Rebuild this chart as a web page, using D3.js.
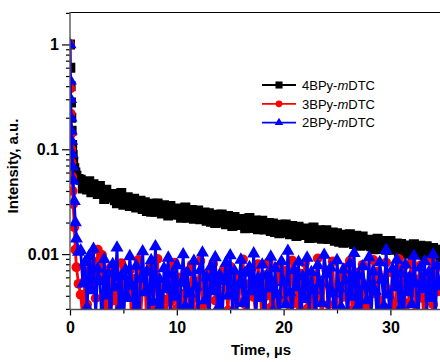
<!DOCTYPE html>
<html>
<head>
<meta charset="utf-8">
<script src="https://cdn.jsdelivr.net/npm/d3@7"></script>
<style>
  html, body { margin: 0; padding: 0; background: #fff; }
  svg { display: block; font-family: Arial, "Liberation Sans", sans-serif; }
</style>
</head>
<body>
<div id="chart"></div>
<script>
// time grid, µs (fine sampling during the prompt decay)
const times = [
  0, 0.03, 0.06, 0.09, 0.12, 0.15, 0.2, 0.25, 0.3, 0.4, 0.5, 0.6, 0.8,
  1.0, 1.2, 1.4, 1.6, 1.8, 2.0, 2.2, 2.4, 2.6, 2.8, 3.0, 3.2, 3.4, 3.6, 3.8,
  4.0, 4.2, 4.4, 4.6, 4.8, 5.0, 5.2, 5.4, 5.6, 5.8, 6.0, 6.2, 6.4, 6.6, 6.8,
  7.0, 7.2, 7.4, 7.6, 7.8, 8.0, 8.2, 8.4, 8.6, 8.8, 9.0, 9.2, 9.4, 9.6, 9.8,
  10.0, 10.2, 10.4, 10.6, 10.8, 11.0, 11.2, 11.4, 11.6, 11.8,
  12.0, 12.2, 12.4, 12.6, 12.8, 13.0, 13.2, 13.4, 13.6, 13.8,
  14.0, 14.2, 14.4, 14.6, 14.8, 15.0, 15.2, 15.4, 15.6, 15.8,
  16.0, 16.2, 16.4, 16.6, 16.8, 17.0, 17.2, 17.4, 17.6, 17.8,
  18.0, 18.2, 18.4, 18.6, 18.8, 19.0, 19.2, 19.4, 19.6, 19.8,
  20.0, 20.2, 20.4, 20.6, 20.8, 21.0, 21.2, 21.4, 21.6, 21.8,
  22.0, 22.2, 22.4, 22.6, 22.8, 23.0, 23.2, 23.4, 23.6, 23.8,
  24.0, 24.2, 24.4, 24.6, 24.8, 25.0, 25.2, 25.4, 25.6, 25.8,
  26.0, 26.2, 26.4, 26.6, 26.8, 27.0, 27.2, 27.4, 27.6, 27.8,
  28.0, 28.2, 28.4, 28.6, 28.8, 29.0, 29.2, 29.4, 29.6, 29.8,
  30.0, 30.2, 30.4, 30.6, 30.8, 31.0, 31.2, 31.4, 31.6, 31.8,
  32.0, 32.2, 32.4, 32.6, 32.8, 33.0, 33.2, 33.4, 33.6, 33.8,
  34.0, 34.2, 34.4, 34.6
];

const int4BPy = [
  1, 0.6, 0.4, 0.28, 0.2, 0.15, 0.11, 0.088, 0.075, 0.066, 0.06, 0.056, 0.052,
  0.0512, 0.0423, 0.0477, 0.0414, 0.0495,
  0.0388, 0.0464, 0.0402, 0.0374, 0.0447,
  0.0390, 0.0336, 0.0412, 0.0370, 0.0344,
  0.0374, 0.0327, 0.0305, 0.0363, 0.0383,
  0.0295, 0.0324, 0.0349, 0.0288, 0.0312,
  0.0337, 0.0278, 0.0302, 0.0322, 0.0269,
  0.0312, 0.0258, 0.0291, 0.0253, 0.0302,
  0.0253, 0.0303, 0.0262, 0.0244, 0.0292,
  0.0271, 0.0234, 0.0287, 0.0258, 0.0239,
  0.0272, 0.0238, 0.0222, 0.0264, 0.0279,
  0.0222, 0.0244, 0.0263, 0.0217, 0.0235,
  0.0261, 0.0215, 0.0234, 0.0249, 0.0208,
  0.0245, 0.0203, 0.0229, 0.0198, 0.0237,
  0.0200, 0.0239, 0.0207, 0.0193, 0.0231,
  0.0214, 0.0185, 0.0226, 0.0203, 0.0189,
  0.0216, 0.0189, 0.0176, 0.0209, 0.0221,
  0.0177, 0.0194, 0.0209, 0.0173, 0.0187,
  0.0208, 0.0172, 0.0186, 0.0198, 0.0166,
  0.0196, 0.0162, 0.0183, 0.0158, 0.0190,
  0.0161, 0.0192, 0.0166, 0.0155, 0.0185,
  0.0172, 0.0149, 0.0182, 0.0164, 0.0152,
  0.0175, 0.0153, 0.0142, 0.0169, 0.0179,
  0.0143, 0.0157, 0.0169, 0.0140, 0.0151,
  0.0169, 0.0139, 0.0151, 0.0161, 0.0134,
  0.0158, 0.0131, 0.0148, 0.0128, 0.0153,
  0.0130, 0.0155, 0.0135, 0.0125, 0.0150,
  0.0139, 0.0120, 0.0147, 0.0132, 0.0123,
  0.0137, 0.0119, 0.0111, 0.0133, 0.0140,
  0.0112, 0.0124, 0.0133, 0.0110, 0.0119,
  0.0133, 0.0110, 0.0119, 0.0126, 0.0106,
  0.0125, 0.0104, 0.0117, 0.0101, 0.0121,
  0.0104, 0.0124, 0.0107, 0.0100, 0.0120,
  0.0112, 0.0097, 0.0119, 0.0107, 0.0099,
  0.0114, 0.0100, 0.0093, 0.0110
];

const int3BPy = [
  1, 0.38, 0.22, 0.14, 0.1, 0.075, 0.055, 0.04, 0.03, 0.018, 0.011, 0.0075, 0.0052,
  0.0041, 0.0024, 0.0056, 0.0033, 0.0069,
  0.0047, 0.0085, 0.0038, 0.0110, 0.0062,
  0.0098, 0.0029, 0.0053, 0.0018, 0.0074,
  0.0036, 0.0061, 0.0021, 0.0045, 0.0082,
  0.0027, 0.0052, 0.0039, 0.0070, 0.0016,
  0.0058, 0.0034, 0.0088, 0.0025, 0.0049,
  0.0066, 0.0019, 0.0043, 0.0078, 0.0031,
  0.0054, 0.0090, 0.0023, 0.0047, 0.0037,
  0.0015, 0.0072, 0.0035, 0.0057, 0.0083,
  0.0030, 0.0060, 0.0042, 0.0020, 0.0068,
  0.0049, 0.0028, 0.0079, 0.0038, 0.0017,
  0.0055, 0.0086, 0.0032, 0.0046, 0.0064,
  0.0022, 0.0051, 0.0081, 0.0036, 0.0059,
  0.0041, 0.0018, 0.0071, 0.0048, 0.0029,
  0.0076, 0.0044, 0.0024, 0.0062, 0.0035,
  0.0057, 0.0089, 0.0033, 0.0016, 0.0052,
  0.0073, 0.0039, 0.0026, 0.0080, 0.0047,
  0.0021, 0.0063, 0.0040, 0.0084, 0.0031,
  0.0050, 0.0014, 0.0058, 0.0077, 0.0037,
  0.0045, 0.0069, 0.0025, 0.0054, 0.0087,
  0.0034, 0.0048, 0.0019, 0.0065, 0.0042,
  0.0082, 0.0030, 0.0056, 0.0044, 0.0017,
  0.0061, 0.0091, 0.0038, 0.0023, 0.0052,
  0.0070, 0.0033, 0.0047, 0.0085, 0.0027,
  0.0043, 0.0015, 0.0060, 0.0039, 0.0074,
  0.0050, 0.0086, 0.0029, 0.0057, 0.0020,
  0.0067, 0.0040, 0.0079, 0.0032, 0.0048,
  0.0018, 0.0055, 0.0088, 0.0042, 0.0068,
  0.0036, 0.0024, 0.0059, 0.0083, 0.0046,
  0.0031, 0.0066, 0.0016, 0.0051, 0.0090,
  0.0041, 0.0075, 0.0034, 0.0021, 0.0061,
  0.0084, 0.0045, 0.0028, 0.0057, 0.0078,
  0.0038, 0.0019, 0.0064, 0.0049, 0.0087,
  0.0033, 0.0072, 0.0044, 0.0056
];

const int2BPy = [
  1, 0.45, 0.3, 0.2, 0.15, 0.12, 0.09, 0.068, 0.05, 0.032, 0.02, 0.014, 0.0105,
  0.0108, 0.0052, 0.0083, 0.0031, 0.0096,
  0.0045, 0.0112, 0.0026, 0.0072, 0.0055,
  0.0021, 0.0089, 0.0040, 0.0065, 0.0017,
  0.0080, 0.0048, 0.0115, 0.0030, 0.0061,
  0.0019, 0.0071, 0.0038, 0.0095, 0.0050,
  0.0028, 0.0077, 0.0014, 0.0058, 0.0106,
  0.0043, 0.0068, 0.0023, 0.0087, 0.0035,
  0.0118, 0.0029, 0.0057, 0.0016, 0.0073,
  0.0046, 0.0092, 0.0025, 0.0064, 0.0039,
  0.0078, 0.0018, 0.0053, 0.0099, 0.0032,
  0.0067, 0.0042, 0.0015, 0.0086, 0.0049,
  0.0027, 0.0070, 0.0103, 0.0036, 0.0060,
  0.0022, 0.0076, 0.0044, 0.0093, 0.0030,
  0.0063, 0.0017, 0.0055, 0.0082, 0.0040,
  0.0097, 0.0028, 0.0069, 0.0024, 0.0051,
  0.0088, 0.0034, 0.0066, 0.0018, 0.0075,
  0.0044, 0.0101, 0.0026, 0.0059, 0.0038,
  0.0079, 0.0015, 0.0062, 0.0047, 0.0094,
  0.0029, 0.0073, 0.0041, 0.0020, 0.0085,
  0.0054, 0.0033, 0.0107, 0.0043, 0.0023,
  0.0070, 0.0048, 0.0084, 0.0016, 0.0061,
  0.0037, 0.0092, 0.0027, 0.0067, 0.0045,
  0.0019, 0.0078, 0.0053, 0.0034, 0.0098,
  0.0064, 0.0025, 0.0074, 0.0042, 0.0014,
  0.0087, 0.0047, 0.0031, 0.0071, 0.0056,
  0.0021, 0.0081, 0.0039, 0.0102, 0.0030,
  0.0062, 0.0017, 0.0076, 0.0050, 0.0036,
  0.0093, 0.0026, 0.0068, 0.0044, 0.0020,
  0.0083, 0.0057, 0.0032, 0.0109, 0.0041,
  0.0024, 0.0072, 0.0048, 0.0088, 0.0029,
  0.0065, 0.0016, 0.0079, 0.0043, 0.0060,
  0.0033, 0.0096, 0.0052, 0.0022, 0.0074,
  0.0046, 0.0085, 0.0027, 0.0067, 0.0038,
  0.0099, 0.0023, 0.0077, 0.0049
];

const seriesNames = ["4BPy-", "3BPy-", "2BPy-"];
const xTicks = [0, 10, 20, 30];
const xMinorTicks = [5, 15, 25, 35];
const yTicks = [1, 0.1, 0.01];
const yTickLabels = ["1", "0.1", "0.01"];

const width = 440, height = 362;
const margin = { top: 12, left: 70, bottom: 309.5 };

const x = d3.scaleLinear().domain([0, 35]).range([margin.left, margin.left + 35 * 10.68]);
const y = d3.scaleLog().domain([0.00296, 2.04]).range([margin.bottom, margin.top]);

const svg = d3.select("#chart").append("svg")
  .attr("width", width).attr("height", height);

svg.append("defs").append("clipPath").attr("id", "plot")
  .append("rect")
  .attr("x", margin.left).attr("y", margin.top)
  .attr("width", width - margin.left).attr("height", margin.bottom - margin.top);

const series = [
  { name: seriesNames[0], values: int4BPy, color: "#000000", symbol: d3.symbolSquare, size: 100, lw: 2, legendSize: 50 },
  { name: seriesNames[1], values: int3BPy, color: "#ff0000", symbol: d3.symbolCircle, size: 76, lw: 2.8, legendSize: 36 },
  { name: seriesNames[2], values: int2BPy, color: "#0000ff", symbol: d3.symbolTriangle, size: 74, lw: 2.8, legendSize: 32 },
];

const plot = svg.append("g").attr("clip-path", "url(#plot)");
const line = d3.line().x((d) => x(d[0])).y((d) => y(d[1]));

series.forEach((s) => {
  const pts = times.map((t, i) => [t, s.values[i]]);
  const g = plot.append("g");
  g.append("path")
    .attr("d", line(pts))
    .attr("fill", "none")
    .attr("stroke", s.color)
    .attr("stroke-width", s.lw);
  g.selectAll("path.m")
    .data(pts)
    .join("path")
    .attr("class", "m")
    .attr("transform", (d) => `translate(${x(d[0])},${y(d[1])})`)
    .attr("d", d3.symbol(s.symbol, s.size))
    .attr("fill", s.color);
});

// ---- axes ----
const axisColor = "#555";
svg.append("line")
  .attr("x1", margin.left).attr("x2", width)
  .attr("y1", margin.top + 0.5).attr("y2", margin.top + 0.5)
  .attr("stroke", "#000").attr("stroke-width", 1.2);

const yMinor = [];
[0.001, 0.01, 0.1, 1].forEach((dec) => {
  for (let k = 2; k <= 9; k++) {
    const v = dec * k;
    if (v > y.domain()[0] && v < y.domain()[1]) yMinor.push(v);
  }
});

const yAxis = svg.append("g").attr("transform", `translate(${margin.left},0)`);
yAxis.append("g")
  .call(d3.axisLeft(y).tickValues(yMinor).tickSize(4).tickFormat(""))
  .call((g) => g.select(".domain").remove());
yAxis.append("g")
  .call(d3.axisLeft(y).tickValues(yTicks).tickSize(8).tickPadding(3)
    .tickFormat((d, i) => yTickLabels[i]))
  .call((g) => g.select(".domain").remove());
yAxis.selectAll("line").attr("stroke", "#000").attr("stroke-width", 1.2);
yAxis.selectAll("text")
  .attr("font-size", 16).attr("font-weight", "bold").attr("fill", "#000")
  .attr("font-family", "Arial, 'Liberation Sans', sans-serif");
yAxis.append("line")
  .attr("x1", 0).attr("x2", 0)
  .attr("y1", margin.top).attr("y2", margin.bottom + 0.5)
  .attr("stroke", axisColor).attr("stroke-width", 1.4);

const xAxis = svg.append("g").attr("transform", `translate(0,${margin.bottom})`);
xAxis.append("g")
  .call(d3.axisBottom(x).tickValues(xMinorTicks).tickSize(4).tickFormat(""))
  .call((g) => g.select(".domain").remove());
xAxis.append("g")
  .call(d3.axisBottom(x).tickValues(xTicks).tickSize(6).tickPadding(6).tickFormat(d3.format("d")))
  .call((g) => g.select(".domain").remove());
xAxis.selectAll("line").attr("stroke", "#000").attr("stroke-width", 1.2);
xAxis.selectAll("text")
  .attr("font-size", 16).attr("font-weight", "bold").attr("fill", "#000")
  .attr("font-family", "Arial, 'Liberation Sans', sans-serif");
xAxis.append("line")
  .attr("x1", margin.left).attr("x2", width)
  .attr("y1", 0).attr("y2", 0)
  .attr("stroke", axisColor).attr("stroke-width", 1.4);

// ---- axis titles ----
svg.append("text")
  .attr("x", 261).attr("y", 355)
  .attr("text-anchor", "middle")
  .attr("font-size", 15).attr("font-weight", "bold")
  .text("Time, µs");

svg.append("text")
  .attr("transform", "translate(18,166) rotate(-90)")
  .attr("text-anchor", "middle")
  .attr("font-size", 15).attr("font-weight", "bold")
  .text("Intensity, a.u.");

// ---- legend ----
const legend = svg.append("g").attr("transform", "translate(262,85)");
series.forEach((s, i) => {
  const row = legend.append("g").attr("transform", `translate(0,${i * 18.8})`);
  row.append("line")
    .attr("x1", 0).attr("x2", 34).attr("y1", 0).attr("y2", 0)
    .attr("stroke", s.color).attr("stroke-width", 1.8);
  row.append("path")
    .attr("transform", "translate(17,0)")
    .attr("d", d3.symbol(s.symbol, s.legendSize))
    .attr("fill", s.color);
  const t = row.append("text")
    .attr("x", 40).attr("y", 4.7)
    .attr("font-size", 13);
  t.append("tspan").text(s.name);
  t.append("tspan").attr("font-style", "italic").text("m");
  t.append("tspan").text("DTC");
});
</script>
</body>
</html>
